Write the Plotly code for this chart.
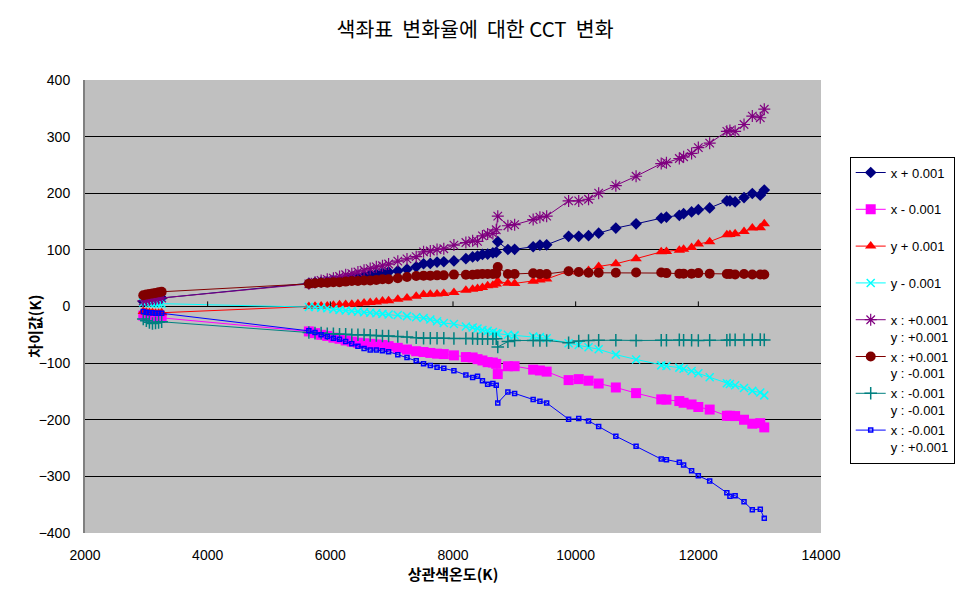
import plotly.graph_objects as go

# base CCT (K) of each sample
cct = [2950, 3000, 3050, 3100, 3150, 3200, 3250,
       5650, 5750, 5850, 5950, 6050, 6150, 6250, 6350, 6450, 6550, 6650, 6750, 6850, 6950,
       7100, 7250, 7400,
       7520, 7630, 7740, 7850, 8015, 8210, 8320, 8400, 8480, 8565, 8650, 8705, 8730, 8895,
       9005, 9307, 9417, 9527, 9885, 10050,
       10210, 10375, 10655, 10985, 11395, 11480, 11690, 11760, 11890, 12000, 12185, 12465,
       12515, 12600, 12745, 12880, 13010, 13075]

x_plus = [9, 10, 11, 12, 13, 14, 15,
          41, 42, 43, 44, 46, 47, 49, 51, 52, 54, 56, 57, 59, 61,
          63, 66, 70,
          75.5, 76, 78.5, 79, 80.4, 84.5, 87.5, 89, 92, 92.5, 94.7, 96, 114.5, 100.7,
          101, 105.5, 108.5, 109, 124, 124,
          125, 129.5, 138.5, 146, 156, 158, 161, 164, 167, 171, 174, 186.5,
          186.5, 184.7, 192.4, 199.6, 196.6, 205.6]

x_minus = [-16, -17, -18, -18, -19, -19, -20,
           -44, -47, -50, -52, -55, -57, -60, -62, -64, -65, -66, -67, -68, -70,
           -73, -76, -79,
           -80.4, -82, -83.3, -84, -86.3, -89.3, -90, -93, -95.3, -98.3, -99, -101.3, -119.3, -105.5,
           -105.5, -111.5, -113, -115, -130, -128.3,
           -131, -136, -143, -153, -164, -164.5, -167, -170, -173, -177.5, -182, -193,
           -193, -193.5, -200, -207, -206, -213.5]

y_plus = [-9, -10, -11, -11, -12, -12, -11,
          0, 0.5, 1, 1, 2, 3, 3.5, 4, 5, 6, 7, 8, 9.5, 10,
          12.6, 15, 18,
          21, 21.6, 22, 23, 24.6, 28.8, 30.6, 32, 33.6, 36.5, 37.5, 39.6, 44.4, 41,
          40.8, 44.4, 46.8, 48.6, 62.4, 61,
          63.5, 70.7, 75.5, 84.5, 96.5, 97, 99.5, 101.3, 104.3, 110.3, 114.5, 126.5,
          127, 128.3, 132.5, 138.5, 139, 146]

y_minus = [7, 7, 6, 6, 6, 5, 5,
           -1, -1, -2, -3, -5, -6, -7, -8, -9, -10, -11, -12, -13, -14,
           -15, -17, -19,
           -20.4, -23, -26, -29.3, -31, -35.4, -37, -39, -41.4, -43, -45, -47.3, -48, -50,
           -51, -53, -54, -56, -65, -68,
           -72, -75.5, -85, -93.5, -104, -105, -108, -110, -114, -118, -125, -135.5,
           -137, -139, -144, -149, -152, -157]

xp_yp = [10, 11, 12, 13, 13, 14, 15,
         40, 43, 46, 48, 50, 53, 56, 58, 61, 64, 67, 70, 72, 75,
         80, 84, 88,
         96.5, 98, 100.7, 102, 108.5, 113, 116, 115, 124.6, 128, 129, 135.5, 159.5, 142.6,
         144.5, 153.5, 157.7, 159.5, 186.5, 186.5,
         189.4, 200.2, 213.4, 230, 252.4, 254, 261.4, 264.4, 270.4, 280.6, 288.4, 309.4,
         310.6, 309.4, 321.4, 336.3, 333.3, 348.4]

xp_ym = [20, 21, 22, 23, 24, 25, 26,
         40, 41, 42, 42, 43, 43, 44, 45, 45, 46, 46, 47, 48, 48,
         50, 52, 54,
         54.5, 54.5, 55, 55, 56.3, 56, 56, 57, 57.5, 57.5, 57.5, 58, 69.6, 57.5,
         57.5, 58.8, 57.5, 57.5, 62.4, 61,
         59.5, 59.5, 59.5, 60, 60, 59, 58, 58, 58, 59, 58, 57.5,
         57.5, 56.5, 57.5, 56.5, 56.5, 56.5]

xm_ym = [-22, -25, -28, -30, -29, -28, -27,
         -46, -47, -47, -48, -48, -49, -49, -50, -50, -50, -51, -51, -52, -52,
         -53, -54, -55,
         -56, -56, -56, -56, -56.5, -56.5, -56.5, -57, -57, -57, -57, -57, -71.4, -62,
         -60, -60, -60, -60, -64, -61,
         -60, -59.5, -59.5, -60, -59.5, -59.5, -59, -59.5, -59.5, -60, -59.5, -59.5,
         -59, -59, -59, -59, -58.5, -59]

xm_yp = [-9, -10, -11, -11, -12, -12, -12,
         -43, -46, -50, -53, -56, -58, -62, -66, -70, -74, -77, -77, -78, -80,
         -85, -90, -96,
         -101.3, -104, -107.3, -109, -113.3, -121, -125.3, -123, -131.3, -137.3, -136, -139, -170.3, -151,
         -153.5, -164.3, -167.3, -170.3, -199, -198,
         -202, -212, -229, -247, -269.5, -270.5, -275, -280, -290, -299, -308, -329,
         -335, -334, -345, -359, -358, -374]

x_ticks = [2000, 4000, 6000, 8000, 10000, 12000, 14000]
x_ticktext = ["2000", "4000", "6000", "8000", "10000", "12000", "14000"]

series = [
    ("x + 0.001<br> ", x_plus, "#000080", "diamond", 9, 0),
    ("x - 0.001<br> ", x_minus, "#FF00FF", "square", 10, 0),
    ("y + 0.001<br> ", y_plus, "#FF0000", "triangle-up", 10, 0),
    ("y - 0.001<br> ", y_minus, "#00FFFF", "x-thin", 8, 1.5),
    ("x : +0.001<br>y : +0.001", xp_yp, "#800080", "asterisk", 10, 1.2),
    ("x : +0.001<br>y : -0.001", xp_ym, "#800000", "circle", 10, 0),
    ("x : -0.001<br>y : -0.001", xm_ym, "#008080", "cross-thin", 9, 1.5),
    ("x : -0.001<br>y : +0.001", xm_yp, "#0000FF", "square-open", 4, 1.5),
]

fig = go.Figure()
for i, (name, vals, col, sym, size, lw) in enumerate(series):
    fig.add_trace(go.Scatter(
        x=cct, y=vals, name=name, mode="lines+markers", legendgroup=str(i),
        line=dict(color=col, width=1),
        marker=dict(symbol=sym, size=size, color=col, line=dict(color=col, width=lw)),
    ))

# small tick marks on the zero line, as Excel draws them
for t in x_ticks[1:-1]:
    fig.add_shape(type="line", x0=t, x1=t, y0=0, y1=9, xref="x", yref="y",
                  line=dict(color="black", width=1))

title_text = "색좌표\u00a0 변화율에\u00a0 대한 CCT\u00a0 변화"

# page body has an 8px margin, so the figure is 8px smaller and margins shifted
fig.update_layout(
    width=961, height=584,
    margin=dict(l=77, r=148, t=72, b=59),
    paper_bgcolor="white", plot_bgcolor="#C0C0C0",
    title=dict(text=title_text, x=0.486, xanchor="center",
               y=0.962, yanchor="middle",
               font=dict(family="Noto Sans CJK KR", size=20.5, color="black")),
    font=dict(family="Liberation Sans", color="black"),
    showlegend=True,
    legend=dict(x=1.039, y=0.831, xanchor="left", yanchor="top",
                bgcolor="white", bordercolor="black", borderwidth=1,
                font=dict(family="Liberation Sans", size=13, color="black"),
                tracegroupgap=0, valign="top"),
    annotations=[dict(text="<b>차이값(K)</b>", textangle=-90, x=-0.069, y=0.456,
                      xanchor="center", yanchor="middle",
                      xref="paper", yref="paper", showarrow=False,
                      font=dict(family="Noto Sans CJK KR", size=15, color="black"))],
)
fig.update_xaxes(range=[2000, 14000], tickvals=x_ticks, ticktext=x_ticktext,
                 showgrid=False, zeroline=False,
                 showline=False, ticks="", ticklabelstandoff=12,
                 tickfont=dict(size=14, family="Liberation Sans"),
                 title=dict(text="<b>상관색온도(K)</b>", standoff=3,
                            font=dict(family="Noto Sans CJK KR", size=15)))
fig.update_yaxes(range=[-400, 400], dtick=100, showgrid=True, gridcolor="black", gridwidth=1,
                 zeroline=True, zerolinecolor="black", zerolinewidth=1,
                 showline=True, linecolor="#808080", linewidth=2, ticks="",
                 ticklabelstandoff=10, tickfont=dict(size=14, family="Liberation Sans"))

fig.write_html("out.html")
